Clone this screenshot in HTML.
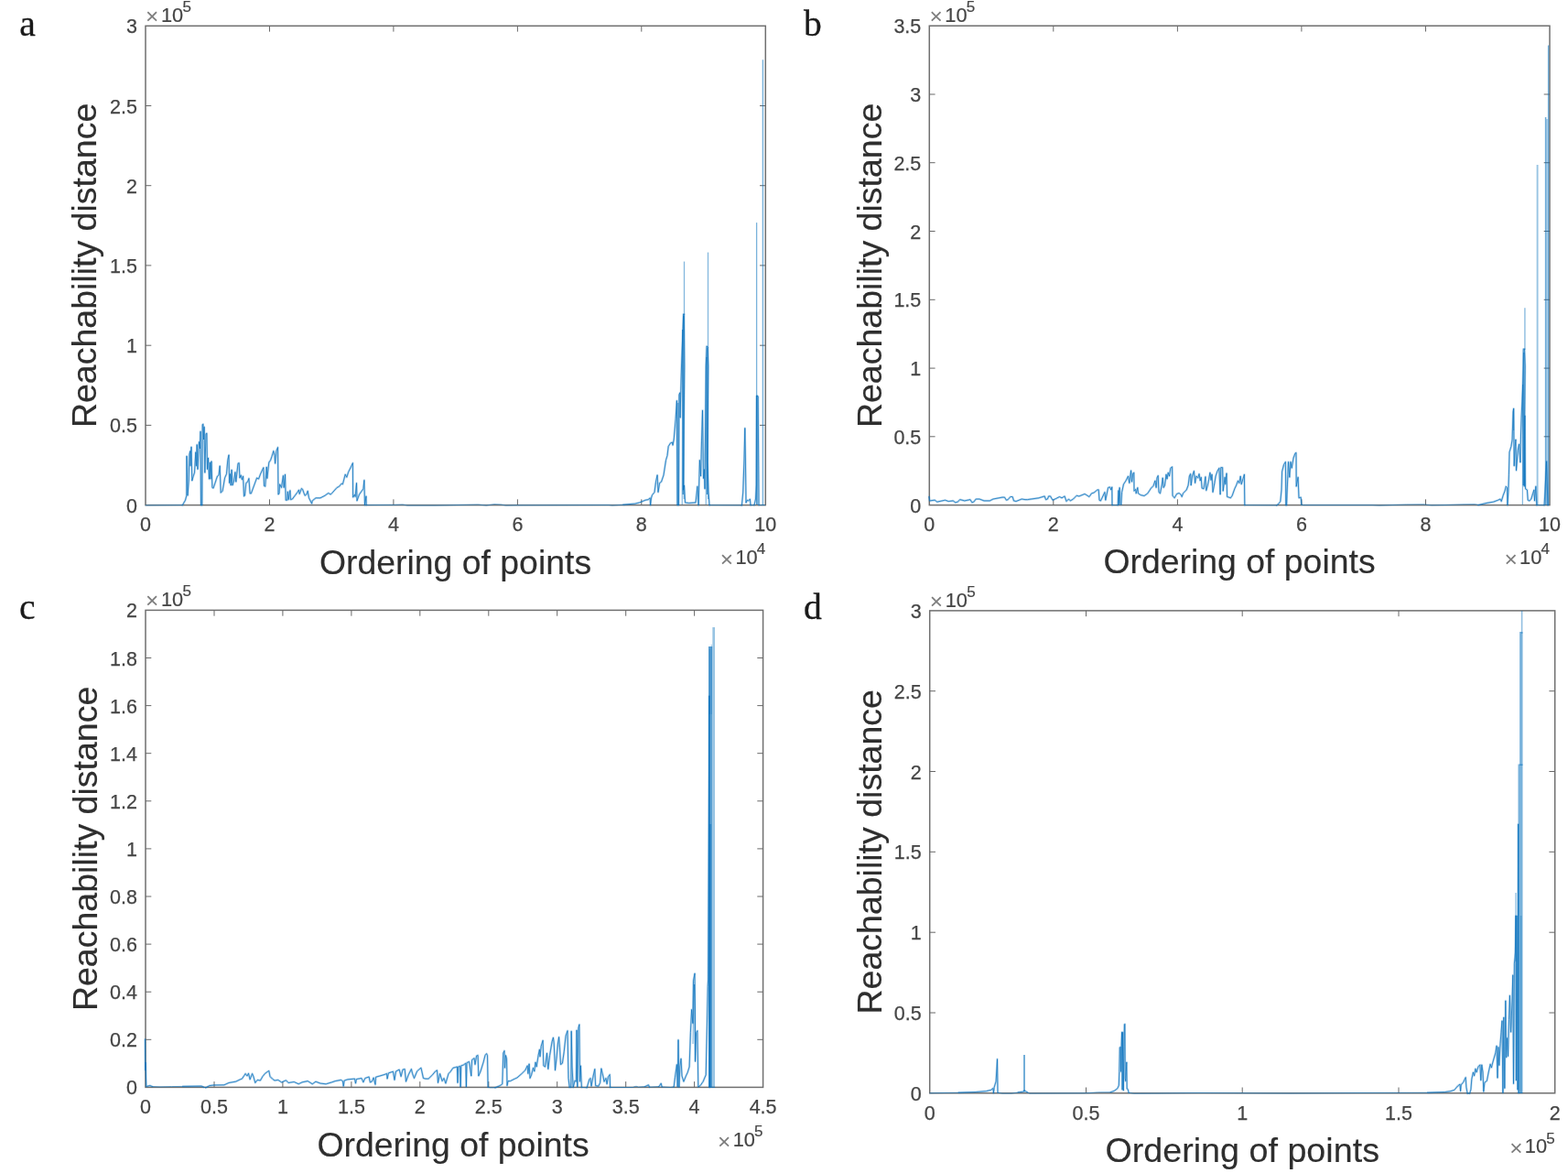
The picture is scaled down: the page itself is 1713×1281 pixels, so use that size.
<!DOCTYPE html>
<html lang="en"><head><meta charset="utf-8"><title>Reachability plots</title>
<style>
html,body{margin:0;padding:0;background:#fff;}
body{width:1713px;height:1281px;overflow:hidden;position:relative;}
svg{display:block;position:absolute;left:0;top:0;}
.tk{font-family:"Liberation Sans",Arial,Helvetica,sans-serif;font-size:21.5px;fill:#454545;stroke:#454545;stroke-width:.25;}
.ex{font-family:"Liberation Sans",Arial,Helvetica,sans-serif;font-size:21.8px;fill:#454545;stroke:#454545;stroke-width:.2;}
.xs{font-family:"Liberation Sans",Arial,Helvetica,sans-serif;fill:#7d7d7d;font-size:24.5px;}
.sup{font-size:17px;}
.lb{font-family:"Liberation Sans",Arial,Helvetica,sans-serif;font-size:37.5px;fill:#2e2e2e;stroke:#2e2e2e;stroke-width:.15;}
.lx{font-size:37.4px;}
.pl{font-family:"Liberation Serif","Times New Roman",serif;font-size:39.6px;fill:#1a1a1a;stroke:#1a1a1a;stroke-width:.3;}
.tc{stroke:#686868;stroke-width:1;fill:none;}
.ax{stroke:#6f6f6f;stroke-width:1.5;fill:none;shape-rendering:geometricPrecision;}
.dh{stroke:#0a72bd;stroke-width:2.2;stroke-opacity:.3;fill:none;stroke-linejoin:round;stroke-linecap:round;}
.dl{stroke:#0a72bd;stroke-width:0.75;fill:none;stroke-linejoin:round;stroke-linecap:round;}
.db{stroke:#0a72bd;stroke-width:1;stroke-opacity:.62;fill:none;stroke-linejoin:round;}
.dx{stroke:#0a72bd;stroke-width:0.8;fill:none;stroke-linejoin:round;stroke-opacity:.75;}
</style></head><body>
<svg width="1713" height="1281" viewBox="0 0 1713 1281">
<rect x="0" y="0" width="1713" height="1281" fill="#fff"/>
<g id="panel-a">
<rect class="ax" x="159.0" y="28.3" width="677.3" height="523.3"/>
<path class="tc" d="M294.5 551.6v-6.3 M294.5 28.3v6.3 M429.9 551.6v-6.3 M429.9 28.3v6.3 M565.4 551.6v-6.3 M565.4 28.3v6.3 M700.8 551.6v-6.3 M700.8 28.3v6.3 M159.0 464.4h6.3 M836.3 464.4h-6.3 M159.0 377.2h6.3 M836.3 377.2h-6.3 M159.0 289.9h6.3 M836.3 289.9h-6.3 M159.0 202.7h6.3 M836.3 202.7h-6.3 M159.0 115.5h6.3 M836.3 115.5h-6.3"/>
<g class="dg">
<polyline class="db" points="158.8,551.9 199.4,551.6"/>
<polyline class="dh" points="199.4,551.6 202.5,546.2 203.8,541.2 204.0,498.1 205.0,541.2 206.2,525.0 206.9,496.2 207.8,492.5 208.1,508.8 209.0,488.1 209.8,525.0 211.2,520.0 212.5,516.2 213.8,493.8 214.4,508.8 215.2,485.6 216.0,512.5 217.5,482.5 218.5,490.0 219.0,471.2 219.5,551.6"/>
<polyline class="dl" points="199.4,551.6 202.5,546.2 203.8,541.2 204.0,498.1 205.0,541.2 206.2,525.0 206.9,496.2 207.8,492.5 208.1,508.8 209.0,488.1 209.8,525.0 211.2,520.0 212.5,516.2 213.8,493.8 214.4,508.8 215.2,485.6 216.0,512.5 217.5,482.5 218.5,490.0 219.0,471.2 219.5,551.6"/>
<polyline class="db" points="219.5,551.6 220.8,551.6"/>
<polyline class="dh" points="220.8,551.6 221.2,463.8 221.9,463.1 222.5,480.0 223.1,466.2 223.8,516.2 225.0,473.8 225.9,473.1 226.5,512.5 227.5,500.0 228.5,523.1 229.4,505.0 230.0,523.1 231.0,503.8 231.9,532.5 233.1,533.1 236.2,523.8 237.5,520.0 239.0,518.8 240.2,508.8 241.2,538.1 243.1,536.2 245.6,521.9 247.5,517.5 248.8,502.5 250.0,496.9 250.6,527.5 251.5,517.5 252.2,530.0 253.1,513.1 254.0,530.0 255.6,525.0 256.9,515.6 257.8,526.2 260.0,506.2 261.2,505.6 261.9,521.9 263.1,518.8 264.4,523.8 265.6,520.0 266.5,541.9 267.5,541.2 268.8,527.5 270.6,526.2 271.9,522.5 273.1,538.8 274.4,538.8 280.6,521.9 282.5,523.1 284.4,518.1 286.9,512.5 287.9,510.6 288.5,530.6 289.8,531.2 291.2,510.0 291.9,522.5 293.8,505.0 295.6,502.5 296.9,498.8 298.8,492.5 300.0,497.5 300.6,506.2 301.9,492.5 303.5,488.5 304.0,540.0 305.0,538.8 305.6,528.8 307.5,532.5 309.4,519.4 310.2,532.5 311.5,518.1 312.2,546.2 313.8,546.2 314.4,536.9 315.2,545.6 316.9,535.6 317.5,545.6 319.4,545.0 325.0,537.5 326.5,535.0 327.2,539.4 329.4,533.5 330.6,534.4 331.9,538.1 333.1,541.2 334.8,540.0 336.2,536.2 337.5,543.8 340.6,550.0 341.2,546.9 345.0,543.8 350.0,543.8 355.0,541.2 358.8,538.5 361.2,540.0 363.1,538.1 368.1,532.5 370.6,531.2 373.1,528.1 374.4,528.8 377.2,518.1 378.8,521.2 380.6,515.6 383.1,510.6 385.4,505.6 385.6,543.1 387.5,540.0 388.1,542.5 389.5,527.5 390.0,546.9 392.5,540.0 396.9,533.8 397.9,524.4 398.5,551.6 400.0,541.9 400.2,551.6"/>
<polyline class="dl" points="220.8,551.6 221.2,463.8 221.9,463.1 222.5,480.0 223.1,466.2 223.8,516.2 225.0,473.8 225.9,473.1 226.5,512.5 227.5,500.0 228.5,523.1 229.4,505.0 230.0,523.1 231.0,503.8 231.9,532.5 233.1,533.1 236.2,523.8 237.5,520.0 239.0,518.8 240.2,508.8 241.2,538.1 243.1,536.2 245.6,521.9 247.5,517.5 248.8,502.5 250.0,496.9 250.6,527.5 251.5,517.5 252.2,530.0 253.1,513.1 254.0,530.0 255.6,525.0 256.9,515.6 257.8,526.2 260.0,506.2 261.2,505.6 261.9,521.9 263.1,518.8 264.4,523.8 265.6,520.0 266.5,541.9 267.5,541.2 268.8,527.5 270.6,526.2 271.9,522.5 273.1,538.8 274.4,538.8 280.6,521.9 282.5,523.1 284.4,518.1 286.9,512.5 287.9,510.6 288.5,530.6 289.8,531.2 291.2,510.0 291.9,522.5 293.8,505.0 295.6,502.5 296.9,498.8 298.8,492.5 300.0,497.5 300.6,506.2 301.9,492.5 303.5,488.5 304.0,540.0 305.0,538.8 305.6,528.8 307.5,532.5 309.4,519.4 310.2,532.5 311.5,518.1 312.2,546.2 313.8,546.2 314.4,536.9 315.2,545.6 316.9,535.6 317.5,545.6 319.4,545.0 325.0,537.5 326.5,535.0 327.2,539.4 329.4,533.5 330.6,534.4 331.9,538.1 333.1,541.2 334.8,540.0 336.2,536.2 337.5,543.8 340.6,550.0 341.2,546.9 345.0,543.8 350.0,543.8 355.0,541.2 358.8,538.5 361.2,540.0 363.1,538.1 368.1,532.5 370.6,531.2 373.1,528.1 374.4,528.8 377.2,518.1 378.8,521.2 380.6,515.6 383.1,510.6 385.4,505.6 385.6,543.1 387.5,540.0 388.1,542.5 389.5,527.5 390.0,546.9 392.5,540.0 396.9,533.8 397.9,524.4 398.5,551.6 400.0,541.9 400.2,551.6"/>
<polyline class="db" points="400.2,551.6 430.0,551.4 440.0,551.0 445.0,552.0 475.0,552.0 487.5,551.8 522.5,551.0 531.2,552.0 540.0,550.6 547.5,551.0 552.5,552.0 564.1,551.8 640.0,551.6 665.0,551.5 668.8,552.0 681.2,551.2"/>
<polyline class="dh" points="681.2,551.2 693.8,550.0 698.8,548.8 705.0,546.2 708.1,545.6 710.2,543.8 710.6,551.6 711.5,543.8 712.5,540.6 715.0,537.5 716.5,526.2 718.1,518.8 719.0,537.5 720.6,527.5 722.5,526.2 725.0,518.8 727.5,502.5 729.0,497.5 730.2,487.5 732.5,483.8 734.4,483.1 735.0,486.2 736.2,480.0 738.1,457.5 739.4,437.5 740.0,551.6"/>
<polyline class="dl" points="681.2,551.2 693.8,550.0 698.8,548.8 705.0,546.2 708.1,545.6 710.2,543.8 710.6,551.6 711.5,543.8 712.5,540.6 715.0,537.5 716.5,526.2 718.1,518.8 719.0,537.5 720.6,527.5 722.5,526.2 725.0,518.8 727.5,502.5 729.0,497.5 730.2,487.5 732.5,483.8 734.4,483.1 735.0,486.2 736.2,480.0 738.1,457.5 739.4,437.5 740.0,551.6"/>
<polyline class="db" points="740.0,551.6 741.5,551.6"/>
<polyline class="dh" points="741.5,551.6 741.9,431.2 742.8,428.8 743.1,456.2 743.8,426.2 744.5,400.0 744.5,400.0 746.6,343.0 747.4,343.0 747.8,400.0 746.5,535.0 747.5,530.0 748.5,548.8 752.5,549.4 760.0,548.8 761.9,531.2 763.1,551.6 764.4,502.5 765.6,520.0 766.5,481.2 767.5,448.1 768.5,522.5 769.4,512.5 770.0,533.8 771.2,400.0 772.0,378.0 773.2,379.0 773.8,400.0 773.0,505.0 774.0,537.0 775.0,551.6"/>
<polyline class="dl" points="741.5,551.6 741.9,431.2 742.8,428.8 743.1,456.2 743.8,426.2 744.5,400.0 744.5,400.0 746.6,343.0 747.4,343.0 747.8,400.0 746.5,535.0 747.5,530.0 748.5,548.8 752.5,549.4 760.0,548.8 761.9,531.2 763.1,551.6 764.4,502.5 765.6,520.0 766.5,481.2 767.5,448.1 768.5,522.5 769.4,512.5 770.0,533.8 771.2,400.0 772.0,378.0 773.2,379.0 773.8,400.0 773.0,505.0 774.0,537.0 775.0,551.6"/>
<polyline class="db" points="775.0,551.6 810.4,551.8"/>
<polyline class="dh" points="810.4,551.8 811.7,538.0 813.0,502.0 813.8,467.5 814.4,502.0 815.0,549.0 816.2,546.2 817.5,547.0 819.4,545.0 820.0,551.6"/>
<polyline class="dl" points="810.4,551.8 811.7,538.0 813.0,502.0 813.8,467.5 814.4,502.0 815.0,549.0 816.2,546.2 817.5,547.0 819.4,545.0 820.0,551.6"/>
<polyline class="db" points="820.0,551.6 824.0,551.6"/>
<polyline class="dh" points="824.0,551.6 825.5,545.0 826.2,530.0 826.5,433.0 827.2,432.0 828.2,433.0 829.0,551.6"/>
<polyline class="dl" points="824.0,551.6 825.5,545.0 826.2,530.0 826.5,433.0 827.2,432.0 828.2,433.0 829.0,551.6"/>
<polyline class="db" points="829.0,551.6 832.5,551.6 836.0,551.6"/>
<polyline class="dx" points="745.2,551.0 745.6,360.0 746.2,540.0 746.8,345.0 747.2,545.0"/>
<polyline class="dx" points="771.2,551.0 771.8,390.0 772.4,540.0 773.0,380.0 773.4,545.0"/>
<line x1="747.5" y1="285.6" x2="747.5" y2="344.0" stroke="#0a72bd" stroke-width="1.3" stroke-opacity="0.50"/>
<line x1="773.5" y1="275.6" x2="773.5" y2="380.0" stroke="#0a72bd" stroke-width="1.3" stroke-opacity="0.50"/>
<line x1="826.6" y1="243.1" x2="826.6" y2="433.0" stroke="#0a72bd" stroke-width="1.3" stroke-opacity="0.55"/>
<line x1="833.4" y1="65.3" x2="833.4" y2="551.6" stroke="#0a72bd" stroke-width="1.4" stroke-opacity="0.55"/>
<line x1="826.9" y1="432.0" x2="826.9" y2="551.0" stroke="#0a72bd" stroke-width="1.6" stroke-opacity="0.80"/>
<line x1="740.7" y1="440.0" x2="740.7" y2="551.0" stroke="#0a72bd" stroke-width="2.0" stroke-opacity="0.45"/>
</g>
<text class="tk" x="159.0" y="580.4" text-anchor="middle">0</text>
<text class="tk" x="294.5" y="580.4" text-anchor="middle">2</text>
<text class="tk" x="429.9" y="580.4" text-anchor="middle">4</text>
<text class="tk" x="565.4" y="580.4" text-anchor="middle">6</text>
<text class="tk" x="700.8" y="580.4" text-anchor="middle">8</text>
<text class="tk" x="836.3" y="580.4" text-anchor="middle">10</text>
<text class="tk" x="150.0" y="559.6" text-anchor="end">0</text>
<text class="tk" x="150.0" y="472.4" text-anchor="end">0.5</text>
<text class="tk" x="150.0" y="385.2" text-anchor="end">1</text>
<text class="tk" x="150.0" y="297.9" text-anchor="end">1.5</text>
<text class="tk" x="150.0" y="210.7" text-anchor="end">2</text>
<text class="tk" x="150.0" y="123.5" text-anchor="end">2.5</text>
<text class="tk" x="150.0" y="36.3" text-anchor="end">3</text>
<text class="xs" x="159.1" y="26.1">×</text>
<text class="ex" x="176.0" y="24.1">10<tspan class="sup" dy="-10.8" dx="-0.7">5</tspan></text>
<text class="xs" x="786.8" y="619.0">×</text>
<text class="ex" x="803.4" y="616.2">10<tspan class="sup" dy="-10.8" dx="-0.9">4</tspan></text>
<text class="lb lx" x="497.5" y="626.5" text-anchor="middle" style="font-size:37.4px">Ordering of points</text>
<text class="lb" transform="translate(104.8 289.9) rotate(-90)" text-anchor="middle">Reachability distance</text>
<text class="pl" x="21.2" y="38.9">a</text>
</g>
<g id="panel-b">
<rect class="ax" x="1015.3" y="28.2" width="677.7" height="523.4"/>
<path class="tc" d="M1150.8 551.6v-6.3 M1150.8 28.2v6.3 M1286.4 551.6v-6.3 M1286.4 28.2v6.3 M1421.9 551.6v-6.3 M1421.9 28.2v6.3 M1557.5 551.6v-6.3 M1557.5 28.2v6.3 M1015.3 476.8h6.3 M1693.0 476.8h-6.3 M1015.3 402.1h6.3 M1693.0 402.1h-6.3 M1015.3 327.3h6.3 M1693.0 327.3h-6.3 M1015.3 252.5h6.3 M1693.0 252.5h-6.3 M1015.3 177.7h6.3 M1693.0 177.7h-6.3 M1015.3 103.0h6.3 M1693.0 103.0h-6.3"/>
<g class="dg">
<polyline class="dh" points="1015.0,542.5 1015.6,546.9 1021.2,546.2 1023.8,548.1 1032.5,546.2 1036.2,547.5 1041.2,546.9 1043.8,548.8 1046.2,548.1 1048.8,545.6 1053.8,546.9 1060.0,545.6 1061.9,548.8 1063.8,548.1 1066.2,545.0 1070.0,545.0 1075.0,546.9 1081.2,546.9 1085.0,545.0 1095.0,543.1 1097.5,543.1 1099.4,546.2 1101.2,545.6 1103.8,542.5 1106.2,542.5 1107.5,546.9 1110.0,547.5 1116.2,545.0 1120.0,545.6 1122.5,545.6 1135.0,543.8 1141.2,541.9 1142.5,545.6 1144.4,545.0 1145.6,541.9 1147.5,541.9 1150.0,546.2 1153.8,544.4 1157.5,542.5 1160.0,543.8 1163.1,541.9 1165.0,547.5 1167.5,545.0 1169.4,546.9 1172.5,545.0 1176.2,541.2 1178.8,541.9 1185.0,539.4 1190.0,542.5 1192.5,538.8 1195.0,538.1 1198.8,535.0 1200.2,534.8 1201.0,546.2 1202.5,546.9 1206.9,537.5 1207.8,546.2 1210.6,532.5 1212.5,531.9 1213.8,535.0 1214.8,531.9 1215.0,551.6"/>
<polyline class="dl" points="1015.0,542.5 1015.6,546.9 1021.2,546.2 1023.8,548.1 1032.5,546.2 1036.2,547.5 1041.2,546.9 1043.8,548.8 1046.2,548.1 1048.8,545.6 1053.8,546.9 1060.0,545.6 1061.9,548.8 1063.8,548.1 1066.2,545.0 1070.0,545.0 1075.0,546.9 1081.2,546.9 1085.0,545.0 1095.0,543.1 1097.5,543.1 1099.4,546.2 1101.2,545.6 1103.8,542.5 1106.2,542.5 1107.5,546.9 1110.0,547.5 1116.2,545.0 1120.0,545.6 1122.5,545.6 1135.0,543.8 1141.2,541.9 1142.5,545.6 1144.4,545.0 1145.6,541.9 1147.5,541.9 1150.0,546.2 1153.8,544.4 1157.5,542.5 1160.0,543.8 1163.1,541.9 1165.0,547.5 1167.5,545.0 1169.4,546.9 1172.5,545.0 1176.2,541.2 1178.8,541.9 1185.0,539.4 1190.0,542.5 1192.5,538.8 1195.0,538.1 1198.8,535.0 1200.2,534.8 1201.0,546.2 1202.5,546.9 1206.9,537.5 1207.8,546.2 1210.6,532.5 1212.5,531.9 1213.8,535.0 1214.8,531.9 1215.0,551.6"/>
<polyline class="db" points="1215.0,551.6 1221.2,551.6"/>
<polyline class="dh" points="1221.2,551.6 1221.9,535.6 1222.5,551.2 1223.1,532.5 1224.0,550.0 1224.8,551.2 1225.6,537.5 1227.5,528.8 1230.0,525.0 1232.5,520.0 1233.8,527.5 1235.6,513.8 1236.5,526.2 1237.8,516.9 1238.8,516.2 1239.0,536.2 1240.6,534.4 1241.2,538.8 1242.8,532.5 1243.5,538.8 1246.2,540.6 1250.0,541.5 1253.8,538.8 1257.5,533.1 1260.0,530.6 1261.9,525.0 1263.1,532.5 1264.0,521.9 1265.2,519.4 1266.0,537.5 1267.5,538.8 1269.4,528.8 1270.2,521.9 1271.2,532.5 1272.5,530.0 1274.0,518.1 1275.0,523.1 1276.2,516.2 1277.5,520.0 1278.8,511.2 1280.6,509.8 1281.0,541.2 1283.1,543.8 1285.6,539.4 1288.1,538.5 1290.0,540.0 1291.2,542.5 1292.5,538.8 1296.2,535.0 1298.1,530.0 1299.4,520.0 1300.6,517.5 1301.2,530.0 1302.5,520.0 1304.4,514.4 1305.6,527.5 1306.9,520.0 1308.8,521.9 1310.0,517.5 1311.2,525.0 1312.2,521.2 1313.1,533.1 1315.0,533.8 1316.9,520.6 1317.8,535.6 1319.4,530.0 1320.6,523.8 1321.9,516.2 1323.1,524.4 1324.0,518.1 1325.0,537.5 1326.9,527.5 1328.1,520.0 1330.0,514.4 1331.9,511.2 1333.1,540.0 1333.8,510.6 1335.6,510.6 1336.2,536.2 1338.1,521.2 1338.8,528.8 1340.0,516.9 1340.6,542.5 1342.5,543.1 1344.4,543.8 1346.2,541.2 1348.8,533.8 1350.6,530.0 1352.5,525.0 1353.8,527.5 1355.2,520.0 1356.2,528.8 1358.1,522.5 1359.4,518.1 1359.8,551.6"/>
<polyline class="dl" points="1221.2,551.6 1221.9,535.6 1222.5,551.2 1223.1,532.5 1224.0,550.0 1224.8,551.2 1225.6,537.5 1227.5,528.8 1230.0,525.0 1232.5,520.0 1233.8,527.5 1235.6,513.8 1236.5,526.2 1237.8,516.9 1238.8,516.2 1239.0,536.2 1240.6,534.4 1241.2,538.8 1242.8,532.5 1243.5,538.8 1246.2,540.6 1250.0,541.5 1253.8,538.8 1257.5,533.1 1260.0,530.6 1261.9,525.0 1263.1,532.5 1264.0,521.9 1265.2,519.4 1266.0,537.5 1267.5,538.8 1269.4,528.8 1270.2,521.9 1271.2,532.5 1272.5,530.0 1274.0,518.1 1275.0,523.1 1276.2,516.2 1277.5,520.0 1278.8,511.2 1280.6,509.8 1281.0,541.2 1283.1,543.8 1285.6,539.4 1288.1,538.5 1290.0,540.0 1291.2,542.5 1292.5,538.8 1296.2,535.0 1298.1,530.0 1299.4,520.0 1300.6,517.5 1301.2,530.0 1302.5,520.0 1304.4,514.4 1305.6,527.5 1306.9,520.0 1308.8,521.9 1310.0,517.5 1311.2,525.0 1312.2,521.2 1313.1,533.1 1315.0,533.8 1316.9,520.6 1317.8,535.6 1319.4,530.0 1320.6,523.8 1321.9,516.2 1323.1,524.4 1324.0,518.1 1325.0,537.5 1326.9,527.5 1328.1,520.0 1330.0,514.4 1331.9,511.2 1333.1,540.0 1333.8,510.6 1335.6,510.6 1336.2,536.2 1338.1,521.2 1338.8,528.8 1340.0,516.9 1340.6,542.5 1342.5,543.1 1344.4,543.8 1346.2,541.2 1348.8,533.8 1350.6,530.0 1352.5,525.0 1353.8,527.5 1355.2,520.0 1356.2,528.8 1358.1,522.5 1359.4,518.1 1359.8,551.6"/>
<polyline class="db" points="1359.8,551.6 1395.0,551.8"/>
<polyline class="dh" points="1395.0,551.8 1397.5,549.4 1398.8,547.5 1400.0,535.0 1400.6,515.0 1402.5,507.5 1404.4,504.4 1404.8,551.6"/>
<polyline class="dl" points="1395.0,551.8 1397.5,549.4 1398.8,547.5 1400.0,535.0 1400.6,515.0 1402.5,507.5 1404.4,504.4 1404.8,551.6"/>
<polyline class="db" points="1404.8,551.6 1405.6,551.6"/>
<polyline class="dh" points="1405.6,551.6 1406.0,540.0 1406.9,518.8 1407.5,504.4 1408.8,521.2 1410.0,504.4 1411.2,511.2 1413.1,500.0 1415.0,495.0 1416.0,494.4 1416.2,531.2 1418.1,521.2 1419.0,543.8 1421.2,543.1 1421.9,551.2"/>
<polyline class="dl" points="1405.6,551.6 1406.0,540.0 1406.9,518.8 1407.5,504.4 1408.8,521.2 1410.0,504.4 1411.2,511.2 1413.1,500.0 1415.0,495.0 1416.0,494.4 1416.2,531.2 1418.1,521.2 1419.0,543.8 1421.2,543.1 1421.9,551.2"/>
<polyline class="db" points="1421.9,551.2 1424.1,551.6 1499.0,551.6 1506.5,552.0 1536.5,551.0 1555.2,550.8 1564.0,551.8 1579.0,551.5 1599.0,550.8 1611.5,550.6 1615.2,551.5"/>
<polyline class="dh" points="1615.2,551.5 1624.0,549.4 1631.5,548.1 1636.5,546.2 1639.0,545.0 1640.2,547.5 1642.1,541.2 1644.0,536.2 1645.2,531.2 1646.5,532.5 1646.9,551.6 1647.8,537.5 1648.4,518.8 1649.0,493.8 1650.9,487.5 1652.1,480.0 1653.0,450.0 1653.6,446.2 1654.2,508.8 1655.2,487.5 1655.9,480.0 1656.5,513.8 1658.4,491.2 1659.6,485.0 1660.9,505.0 1661.5,475.0 1662.1,456.2 1663.4,425.0 1664.0,400.0 1664.0,400.0 1664.3,381.2 1665.5,381.0 1666.2,400.0 1665.0,531.0 1665.5,531.2 1665.9,453.8 1666.5,533.8 1668.4,535.0 1669.2,546.2 1670.9,546.9 1672.8,545.0 1674.6,538.8 1675.9,535.0 1676.5,546.9 1677.8,531.2 1678.8,551.6"/>
<polyline class="dl" points="1615.2,551.5 1624.0,549.4 1631.5,548.1 1636.5,546.2 1639.0,545.0 1640.2,547.5 1642.1,541.2 1644.0,536.2 1645.2,531.2 1646.5,532.5 1646.9,551.6 1647.8,537.5 1648.4,518.8 1649.0,493.8 1650.9,487.5 1652.1,480.0 1653.0,450.0 1653.6,446.2 1654.2,508.8 1655.2,487.5 1655.9,480.0 1656.5,513.8 1658.4,491.2 1659.6,485.0 1660.9,505.0 1661.5,475.0 1662.1,456.2 1663.4,425.0 1664.0,400.0 1664.0,400.0 1664.3,381.2 1665.5,381.0 1666.2,400.0 1665.0,531.0 1665.5,531.2 1665.9,453.8 1666.5,533.8 1668.4,535.0 1669.2,546.2 1670.9,546.9 1672.8,545.0 1674.6,538.8 1675.9,535.0 1676.5,546.9 1677.8,531.2 1678.8,551.6"/>
<polyline class="db" points="1678.8,551.6 1687.1,551.6"/>
<polyline class="dh" points="1687.1,551.6 1689.6,503.8 1690.9,551.6"/>
<polyline class="dl" points="1687.1,551.6 1689.6,503.8 1690.9,551.6"/>
<polyline class="db" points="1690.9,551.6 1692.3,551.6"/>
<polyline class="dx" points="1663.3,551.0 1663.6,420.0 1664.2,530.0 1664.8,385.0 1665.3,530.0"/>
<line x1="1665.9" y1="336.2" x2="1665.9" y2="382.0" stroke="#0a72bd" stroke-width="1.3" stroke-opacity="0.50"/>
<line x1="1679.6" y1="180.0" x2="1679.6" y2="551.6" stroke="#0a72bd" stroke-width="1.9" stroke-opacity="0.42"/>
<line x1="1688.6" y1="128.1" x2="1688.6" y2="551.6" stroke="#0a72bd" stroke-width="1.5" stroke-opacity="0.60"/>
<line x1="1691.6" y1="49.4" x2="1691.6" y2="551.6" stroke="#0a72bd" stroke-width="1.4" stroke-opacity="0.60"/>
<line x1="1690.1" y1="130.0" x2="1690.1" y2="551.6" stroke="#0a72bd" stroke-width="2.2" stroke-opacity="0.30"/>
<line x1="1653.6" y1="446.0" x2="1653.6" y2="470.0" stroke="#0a72bd" stroke-width="1.2" stroke-opacity="0.50"/>
</g>
<text class="tk" x="1015.3" y="580.4" text-anchor="middle">0</text>
<text class="tk" x="1150.8" y="580.4" text-anchor="middle">2</text>
<text class="tk" x="1286.4" y="580.4" text-anchor="middle">4</text>
<text class="tk" x="1421.9" y="580.4" text-anchor="middle">6</text>
<text class="tk" x="1557.5" y="580.4" text-anchor="middle">8</text>
<text class="tk" x="1693.0" y="580.4" text-anchor="middle">10</text>
<text class="tk" x="1006.3" y="559.6" text-anchor="end">0</text>
<text class="tk" x="1006.3" y="484.8" text-anchor="end">0.5</text>
<text class="tk" x="1006.3" y="410.1" text-anchor="end">1</text>
<text class="tk" x="1006.3" y="335.3" text-anchor="end">1.5</text>
<text class="tk" x="1006.3" y="260.5" text-anchor="end">2</text>
<text class="tk" x="1006.3" y="185.7" text-anchor="end">2.5</text>
<text class="tk" x="1006.3" y="111.0" text-anchor="end">3</text>
<text class="tk" x="1006.3" y="36.2" text-anchor="end">3.5</text>
<text class="xs" x="1015.4" y="26.0">×</text>
<text class="ex" x="1032.3" y="24.0">10<tspan class="sup" dy="-10.8" dx="-0.7">5</tspan></text>
<text class="xs" x="1643.5" y="619.0">×</text>
<text class="ex" x="1660.1" y="616.2">10<tspan class="sup" dy="-10.8" dx="-0.9">4</tspan></text>
<text class="lb lx" x="1354.0" y="626.0" text-anchor="middle" style="font-size:37.4px">Ordering of points</text>
<text class="lb" transform="translate(962.6 289.9) rotate(-90)" text-anchor="middle">Reachability distance</text>
<text class="pl" x="878.0" y="38.9">b</text>
</g>
<g id="panel-c">
<rect class="ax" x="159.0" y="666.4" width="674.6" height="521.0"/>
<path class="tc" d="M234.0 1187.4v-6.3 M234.0 666.4v6.3 M308.9 1187.4v-6.3 M308.9 666.4v6.3 M383.9 1187.4v-6.3 M383.9 666.4v6.3 M458.8 1187.4v-6.3 M458.8 666.4v6.3 M533.8 1187.4v-6.3 M533.8 666.4v6.3 M608.7 1187.4v-6.3 M608.7 666.4v6.3 M683.7 1187.4v-6.3 M683.7 666.4v6.3 M758.6 1187.4v-6.3 M758.6 666.4v6.3 M159.0 1135.3h6.3 M833.6 1135.3h-6.3 M159.0 1083.2h6.3 M833.6 1083.2h-6.3 M159.0 1031.1h6.3 M833.6 1031.1h-6.3 M159.0 979.0h6.3 M833.6 979.0h-6.3 M159.0 926.9h6.3 M833.6 926.9h-6.3 M159.0 874.8h6.3 M833.6 874.8h-6.3 M159.0 822.7h6.3 M833.6 822.7h-6.3 M159.0 770.6h6.3 M833.6 770.6h-6.3 M159.0 718.5h6.3 M833.6 718.5h-6.3"/>
<g class="dg">
<polyline class="dh" points="158.5,1135.0 158.8,1168.8 159.0,1160.0 159.8,1186.5 163.8,1185.5 166.2,1186.5"/>
<polyline class="dl" points="158.5,1135.0 158.8,1168.8 159.0,1160.0 159.8,1186.5 163.8,1185.5 166.2,1186.5"/>
<polyline class="db" points="166.2,1186.5 175.0,1186.9 187.5,1186.6 200.0,1186.4"/>
<polyline class="dh" points="200.0,1186.4 220.0,1186.1 222.5,1187.2"/>
<polyline class="dl" points="200.0,1186.4 220.0,1186.1 222.5,1187.2"/>
<polyline class="db" points="222.5,1187.2 225.0,1187.8"/>
<polyline class="dh" points="225.0,1187.8 228.8,1185.6 233.8,1185.0 245.0,1184.8 250.0,1182.5 257.5,1181.2 262.5,1178.8 264.4,1178.1 266.9,1174.4 268.1,1172.5 270.0,1175.0 271.5,1172.2 273.1,1178.8 275.6,1172.5 276.9,1175.6 278.8,1182.5 281.2,1179.4 284.4,1180.0 286.9,1175.6 289.4,1172.5 291.9,1170.6 293.8,1169.4 295.0,1175.6 297.5,1178.1 300.0,1180.0 303.8,1179.4 307.5,1181.9 312.5,1179.8 315.0,1182.5 321.2,1181.5 326.2,1183.8 330.0,1181.9 336.2,1180.6 341.2,1183.8 345.0,1181.2 350.0,1183.1 356.2,1183.8 362.5,1181.9 366.2,1180.6 372.5,1179.4 374.4,1180.6 375.2,1186.2 376.2,1180.0 380.0,1178.8 387.5,1178.1 388.5,1183.1 389.4,1178.5 395.0,1177.5 396.9,1181.9 398.8,1177.5 403.1,1176.0 404.4,1181.9 406.2,1181.2 408.1,1176.9 410.0,1184.4 410.6,1176.2 415.0,1175.0 420.0,1173.5 422.5,1172.5 423.1,1178.1 424.4,1171.9 429.4,1170.2 431.0,1179.4 432.5,1170.0 436.2,1168.1 438.1,1175.6 440.0,1168.1 442.2,1167.5 443.5,1181.2 446.2,1173.8 449.4,1167.5 450.6,1172.5 452.5,1177.5 455.6,1170.0 457.5,1168.1 460.0,1166.2 462.5,1177.5 465.0,1178.1 468.1,1178.1 472.5,1173.8 475.6,1170.0 477.5,1168.8 478.5,1182.5 480.6,1172.5 483.1,1180.6 485.0,1177.5 486.9,1183.1 490.0,1172.5 491.9,1170.6 495.0,1166.2 497.5,1165.6 499.4,1165.0 500.0,1182.5 500.6,1165.0 502.5,1164.4 503.1,1186.9 503.8,1163.8 506.2,1163.1 508.8,1161.2 509.4,1186.9 510.0,1160.6 512.5,1159.4 514.8,1175.0 515.6,1157.5 518.1,1155.6 519.0,1162.5 520.6,1153.1 522.1,1152.5 522.8,1175.0 525.0,1170.0 528.1,1160.0 530.0,1152.5 531.5,1150.6 532.5,1152.5 533.1,1187.2"/>
<polyline class="dl" points="225.0,1187.8 228.8,1185.6 233.8,1185.0 245.0,1184.8 250.0,1182.5 257.5,1181.2 262.5,1178.8 264.4,1178.1 266.9,1174.4 268.1,1172.5 270.0,1175.0 271.5,1172.2 273.1,1178.8 275.6,1172.5 276.9,1175.6 278.8,1182.5 281.2,1179.4 284.4,1180.0 286.9,1175.6 289.4,1172.5 291.9,1170.6 293.8,1169.4 295.0,1175.6 297.5,1178.1 300.0,1180.0 303.8,1179.4 307.5,1181.9 312.5,1179.8 315.0,1182.5 321.2,1181.5 326.2,1183.8 330.0,1181.9 336.2,1180.6 341.2,1183.8 345.0,1181.2 350.0,1183.1 356.2,1183.8 362.5,1181.9 366.2,1180.6 372.5,1179.4 374.4,1180.6 375.2,1186.2 376.2,1180.0 380.0,1178.8 387.5,1178.1 388.5,1183.1 389.4,1178.5 395.0,1177.5 396.9,1181.9 398.8,1177.5 403.1,1176.0 404.4,1181.9 406.2,1181.2 408.1,1176.9 410.0,1184.4 410.6,1176.2 415.0,1175.0 420.0,1173.5 422.5,1172.5 423.1,1178.1 424.4,1171.9 429.4,1170.2 431.0,1179.4 432.5,1170.0 436.2,1168.1 438.1,1175.6 440.0,1168.1 442.2,1167.5 443.5,1181.2 446.2,1173.8 449.4,1167.5 450.6,1172.5 452.5,1177.5 455.6,1170.0 457.5,1168.1 460.0,1166.2 462.5,1177.5 465.0,1178.1 468.1,1178.1 472.5,1173.8 475.6,1170.0 477.5,1168.8 478.5,1182.5 480.6,1172.5 483.1,1180.6 485.0,1177.5 486.9,1183.1 490.0,1172.5 491.9,1170.6 495.0,1166.2 497.5,1165.6 499.4,1165.0 500.0,1182.5 500.6,1165.0 502.5,1164.4 503.1,1186.9 503.8,1163.8 506.2,1163.1 508.8,1161.2 509.4,1186.9 510.0,1160.6 512.5,1159.4 514.8,1175.0 515.6,1157.5 518.1,1155.6 519.0,1162.5 520.6,1153.1 522.1,1152.5 522.8,1175.0 525.0,1170.0 528.1,1160.0 530.0,1152.5 531.5,1150.6 532.5,1152.5 533.1,1187.2"/>
<polyline class="db" points="533.1,1187.2 535.0,1187.8 541.2,1187.8"/>
<polyline class="dh" points="541.2,1187.8 546.2,1185.6 548.8,1183.8 549.8,1150.0 551.0,1147.5 551.5,1166.2 552.5,1152.5 553.5,1156.2 554.0,1185.6 555.0,1180.6 557.5,1180.6 562.5,1178.1 565.0,1176.9 570.0,1172.5 573.8,1168.8 576.2,1163.8 576.9,1172.5 578.1,1161.9 579.0,1177.5 580.6,1173.8 582.5,1166.2 583.8,1170.0 585.0,1160.0 586.2,1165.0 588.1,1152.5 589.4,1146.2 590.0,1153.8 591.2,1142.5 593.1,1136.2 593.8,1163.8 595.6,1165.0 597.5,1150.0 598.8,1167.5 600.6,1152.5 603.1,1137.5 604.4,1133.1 605.2,1138.8 606.5,1168.8 608.1,1155.0 609.4,1140.0 610.6,1132.5 611.5,1143.8 612.5,1162.5 614.4,1161.2 616.2,1148.8 618.1,1131.2 620.0,1125.6 621.0,1177.5 622.2,1187.5"/>
<polyline class="dl" points="541.2,1187.8 546.2,1185.6 548.8,1183.8 549.8,1150.0 551.0,1147.5 551.5,1166.2 552.5,1152.5 553.5,1156.2 554.0,1185.6 555.0,1180.6 557.5,1180.6 562.5,1178.1 565.0,1176.9 570.0,1172.5 573.8,1168.8 576.2,1163.8 576.9,1172.5 578.1,1161.9 579.0,1177.5 580.6,1173.8 582.5,1166.2 583.8,1170.0 585.0,1160.0 586.2,1165.0 588.1,1152.5 589.4,1146.2 590.0,1153.8 591.2,1142.5 593.1,1136.2 593.8,1163.8 595.6,1165.0 597.5,1150.0 598.8,1167.5 600.6,1152.5 603.1,1137.5 604.4,1133.1 605.2,1138.8 606.5,1168.8 608.1,1155.0 609.4,1140.0 610.6,1132.5 611.5,1143.8 612.5,1162.5 614.4,1161.2 616.2,1148.8 618.1,1131.2 620.0,1125.6 621.0,1177.5 622.2,1187.5"/>
<polyline class="db" points="622.2,1187.5 623.8,1187.5"/>
<polyline class="dh" points="623.8,1187.5 624.2,1126.2 625.0,1165.0 626.2,1187.5 628.1,1180.0 629.4,1181.2 630.0,1125.0 630.8,1186.9 631.9,1122.5 632.9,1118.8 633.5,1181.2 634.4,1163.8 635.4,1187.5"/>
<polyline class="dl" points="623.8,1187.5 624.2,1126.2 625.0,1165.0 626.2,1187.5 628.1,1180.0 629.4,1181.2 630.0,1125.0 630.8,1186.9 631.9,1122.5 632.9,1118.8 633.5,1181.2 634.4,1163.8 635.4,1187.5"/>
<polyline class="db" points="635.4,1187.5 641.2,1187.8"/>
<polyline class="dh" points="641.2,1187.8 643.8,1178.8 645.0,1177.5 646.0,1186.2 648.1,1175.0 649.8,1167.5 650.6,1185.6 653.8,1186.2 655.6,1182.5 656.9,1166.9 658.8,1175.0 660.0,1181.2 661.9,1177.5 663.1,1183.8 664.4,1176.2 666.2,1173.5 666.6,1187.5"/>
<polyline class="dl" points="641.2,1187.8 643.8,1178.8 645.0,1177.5 646.0,1186.2 648.1,1175.0 649.8,1167.5 650.6,1185.6 653.8,1186.2 655.6,1182.5 656.9,1166.9 658.8,1175.0 660.0,1181.2 661.9,1177.5 663.1,1183.8 664.4,1176.2 666.2,1173.5 666.6,1187.5"/>
<polyline class="db" points="666.6,1187.5 691.2,1187.5 695.0,1186.2 697.5,1187.2 705.0,1186.5"/>
<polyline class="dh" points="705.0,1186.5 708.5,1184.8 709.4,1187.2"/>
<polyline class="dl" points="705.0,1186.5 708.5,1184.8 709.4,1187.2"/>
<polyline class="db" points="709.4,1187.2 720.0,1186.5"/>
<polyline class="dh" points="720.0,1186.5 722.2,1183.1 723.1,1186.9"/>
<polyline class="dl" points="720.0,1186.5 722.2,1183.1 723.1,1186.9"/>
<polyline class="db" points="723.1,1186.9 732.5,1187.5 736.2,1186.9"/>
<polyline class="dh" points="736.2,1186.9 737.5,1176.2 739.4,1162.5 740.2,1186.9 741.0,1135.6 741.9,1187.2 742.8,1165.0 744.0,1156.2 745.0,1175.0 746.9,1181.2 749.4,1175.0 751.2,1171.2 753.1,1165.0 754.4,1127.5 755.6,1102.5 756.9,1117.5 757.5,1071.2 759.0,1063.1 759.5,1158.8 760.6,1127.5 761.9,1125.6 762.8,1186.9 765.0,1185.6 768.1,1181.2 771.2,1173.8 772.5,1115.0 773.2,1077.5 773.6,1070.0 774.3,900.0 774.8,760.0 775.2,1187.4"/>
<polyline class="dl" points="736.2,1186.9 737.5,1176.2 739.4,1162.5 740.2,1186.9 741.0,1135.6 741.9,1187.2 742.8,1165.0 744.0,1156.2 745.0,1175.0 746.9,1181.2 749.4,1175.0 751.2,1171.2 753.1,1165.0 754.4,1127.5 755.6,1102.5 756.9,1117.5 757.5,1071.2 759.0,1063.1 759.5,1158.8 760.6,1127.5 761.9,1125.6 762.8,1186.9 765.0,1185.6 768.1,1181.2 771.2,1173.8 772.5,1115.0 773.2,1077.5 773.6,1070.0 774.3,900.0 774.8,760.0 775.2,1187.4"/>
<polyline class="db" points="775.2,1187.4 781.2,1187.4"/>
<polyline class="dx" points="757.0,1140.0 757.8,1090.0 758.6,1075.0 759.2,1100.0 759.6,1160.0"/>
<line x1="776.1" y1="706.0" x2="776.1" y2="1187.4" stroke="#0a72bd" stroke-width="4.2" stroke-opacity="0.68"/>
<line x1="775.4" y1="708.8" x2="775.4" y2="780.0" stroke="#0a72bd" stroke-width="1.2" stroke-opacity="0.30"/>
<line x1="777.3" y1="703.8" x2="777.3" y2="780.0" stroke="#0a72bd" stroke-width="1.2" stroke-opacity="0.30"/>
<line x1="779.7" y1="685.0" x2="779.7" y2="1187.4" stroke="#0a72bd" stroke-width="2.7" stroke-opacity="0.42"/>
<line x1="775.8" y1="900.0" x2="775.8" y2="1187.4" stroke="#0a72bd" stroke-width="2.5" stroke-opacity="0.50"/>
</g>
<text class="tk" x="159.0" y="1216.2" text-anchor="middle">0</text>
<text class="tk" x="234.0" y="1216.2" text-anchor="middle">0.5</text>
<text class="tk" x="308.9" y="1216.2" text-anchor="middle">1</text>
<text class="tk" x="383.9" y="1216.2" text-anchor="middle">1.5</text>
<text class="tk" x="458.8" y="1216.2" text-anchor="middle">2</text>
<text class="tk" x="533.8" y="1216.2" text-anchor="middle">2.5</text>
<text class="tk" x="608.7" y="1216.2" text-anchor="middle">3</text>
<text class="tk" x="683.7" y="1216.2" text-anchor="middle">3.5</text>
<text class="tk" x="758.6" y="1216.2" text-anchor="middle">4</text>
<text class="tk" x="833.6" y="1216.2" text-anchor="middle">4.5</text>
<text class="tk" x="150.0" y="1195.4" text-anchor="end">0</text>
<text class="tk" x="150.0" y="1143.3" text-anchor="end">0.2</text>
<text class="tk" x="150.0" y="1091.2" text-anchor="end">0.4</text>
<text class="tk" x="150.0" y="1039.1" text-anchor="end">0.6</text>
<text class="tk" x="150.0" y="987.0" text-anchor="end">0.8</text>
<text class="tk" x="150.0" y="934.9" text-anchor="end">1</text>
<text class="tk" x="150.0" y="882.8" text-anchor="end">1.2</text>
<text class="tk" x="150.0" y="830.7" text-anchor="end">1.4</text>
<text class="tk" x="150.0" y="778.6" text-anchor="end">1.6</text>
<text class="tk" x="150.0" y="726.5" text-anchor="end">1.8</text>
<text class="tk" x="150.0" y="674.4" text-anchor="end">2</text>
<text class="xs" x="159.1" y="664.2">×</text>
<text class="ex" x="176.0" y="662.2">10<tspan class="sup" dy="-10.8" dx="-0.7">5</tspan></text>
<text class="xs" x="784.1" y="1254.8">×</text>
<text class="ex" x="800.7" y="1252.0">10<tspan class="sup" dy="-10.8" dx="-0.9">5</tspan></text>
<text class="lb lx" x="495.0" y="1263.0" text-anchor="middle" style="font-size:37.4px">Ordering of points</text>
<text class="lb" transform="translate(105.5 926.9) rotate(-90)" text-anchor="middle">Reachability distance</text>
<text class="pl" x="21.0" y="676.0">c</text>
</g>
<g id="panel-d">
<rect class="ax" x="1015.7" y="666.9" width="683.0" height="526.9"/>
<path class="tc" d="M1186.5 1193.8v-6.3 M1186.5 666.9v6.3 M1357.2 1193.8v-6.3 M1357.2 666.9v6.3 M1528.0 1193.8v-6.3 M1528.0 666.9v6.3 M1015.7 1106.0h6.3 M1698.7 1106.0h-6.3 M1015.7 1018.2h6.3 M1698.7 1018.2h-6.3 M1015.7 930.3h6.3 M1698.7 930.3h-6.3 M1015.7 842.5h6.3 M1698.7 842.5h-6.3 M1015.7 754.7h6.3 M1698.7 754.7h-6.3"/>
<g class="dg">
<polyline class="db" points="1015.6,1193.8 1047.5,1193.2"/>
<polyline class="dh" points="1047.5,1193.2 1066.2,1192.5 1077.5,1191.6 1082.5,1190.4 1085.0,1188.5 1085.4,1193.8 1086.2,1187.2 1088.1,1181.0 1089.0,1166.0 1089.5,1156.6 1090.0,1193.2"/>
<polyline class="dl" points="1047.5,1193.2 1066.2,1192.5 1077.5,1191.6 1082.5,1190.4 1085.0,1188.5 1085.4,1193.8 1086.2,1187.2 1088.1,1181.0 1089.0,1166.0 1089.5,1156.6 1090.0,1193.2"/>
<polyline class="db" points="1090.0,1193.2 1095.0,1194.1 1105.0,1194.1 1112.5,1192.9"/>
<polyline class="dh" points="1112.5,1192.9 1117.8,1192.2 1118.8,1191.0 1119.4,1191.0 1120.2,1191.6 1122.5,1192.9"/>
<polyline class="dl" points="1112.5,1192.9 1117.8,1192.2 1118.8,1191.0 1119.4,1191.0 1120.2,1191.6 1122.5,1192.9"/>
<polyline class="db" points="1122.5,1192.9 1125.0,1194.1 1185.0,1193.8 1190.0,1193.6 1199.4,1192.8 1213.4,1192.7"/>
<polyline class="dh" points="1213.4,1192.7 1217.2,1191.4 1220.9,1188.6 1222.3,1185.3 1222.8,1170.3 1223.3,1144.1 1224.2,1143.2 1224.5,1170.3 1225.1,1142.2 1225.6,1127.2 1226.1,1190.0 1226.7,1127.2 1227.3,1191.0 1228.0,1142.2 1228.4,1118.8 1228.9,1118.3 1229.2,1177.8 1229.8,1180.7 1230.3,1170.3 1230.8,1160.0 1231.2,1189.1 1232.2,1189.6 1233.1,1193.3"/>
<polyline class="dl" points="1213.4,1192.7 1217.2,1191.4 1220.9,1188.6 1222.3,1185.3 1222.8,1170.3 1223.3,1144.1 1224.2,1143.2 1224.5,1170.3 1225.1,1142.2 1225.6,1127.2 1226.1,1190.0 1226.7,1127.2 1227.3,1191.0 1228.0,1142.2 1228.4,1118.8 1228.9,1118.3 1229.2,1177.8 1229.8,1180.7 1230.3,1170.3 1230.8,1160.0 1231.2,1189.1 1232.2,1189.6 1233.1,1193.3"/>
<polyline class="db" points="1233.1,1193.3 1238.7,1194.2 1265.0,1194.0 1297.0,1193.6 1310.0,1193.5 1410.0,1194.0 1485.0,1193.5 1560.0,1193.2"/>
<polyline class="dh" points="1560.0,1193.2 1578.8,1192.5 1585.0,1191.6 1588.8,1190.4 1592.5,1186.0 1595.0,1184.1 1595.6,1191.6 1596.2,1184.8 1598.8,1181.6 1601.2,1176.6 1601.9,1187.2 1603.1,1194.1"/>
<polyline class="dl" points="1560.0,1193.2 1578.8,1192.5 1585.0,1191.6 1588.8,1190.4 1592.5,1186.0 1595.0,1184.1 1595.6,1191.6 1596.2,1184.8 1598.8,1181.6 1601.2,1176.6 1601.9,1187.2 1603.1,1194.1"/>
<polyline class="db" points="1603.1,1194.1 1605.6,1194.1"/>
<polyline class="dh" points="1605.6,1194.1 1606.9,1189.8 1607.8,1178.5 1609.4,1171.0 1610.6,1174.8 1611.9,1167.2 1613.1,1171.0 1615.0,1164.8 1616.9,1162.9 1617.8,1179.8 1618.8,1162.9 1620.0,1171.0 1620.8,1192.2 1621.9,1182.2 1624.4,1180.4 1626.2,1171.0 1628.1,1162.2 1629.4,1166.0 1630.6,1161.0 1633.8,1149.8 1635.0,1142.2 1636.0,1177.2 1636.9,1143.5 1637.8,1163.5 1639.0,1139.8 1640.0,1127.2 1641.0,1114.8 1641.9,1193.5 1642.8,1111.0 1643.8,1188.5 1644.8,1092.9 1645.6,1154.8 1646.5,1133.5 1647.5,1153.5 1648.5,1113.5 1649.4,1087.2 1650.6,1127.2 1651.9,1096.0 1652.8,1064.8 1653.5,1183.5 1654.4,1052.2 1655.0,1046.0 1655.4,1040.0 1656.0,1000.0 1656.4,1180.0 1657.0,1000.0 1658.0,1190.0 1658.6,900.0 1659.0,1193.6"/>
<polyline class="dl" points="1605.6,1194.1 1606.9,1189.8 1607.8,1178.5 1609.4,1171.0 1610.6,1174.8 1611.9,1167.2 1613.1,1171.0 1615.0,1164.8 1616.9,1162.9 1617.8,1179.8 1618.8,1162.9 1620.0,1171.0 1620.8,1192.2 1621.9,1182.2 1624.4,1180.4 1626.2,1171.0 1628.1,1162.2 1629.4,1166.0 1630.6,1161.0 1633.8,1149.8 1635.0,1142.2 1636.0,1177.2 1636.9,1143.5 1637.8,1163.5 1639.0,1139.8 1640.0,1127.2 1641.0,1114.8 1641.9,1193.5 1642.8,1111.0 1643.8,1188.5 1644.8,1092.9 1645.6,1154.8 1646.5,1133.5 1647.5,1153.5 1648.5,1113.5 1649.4,1087.2 1650.6,1127.2 1651.9,1096.0 1652.8,1064.8 1653.5,1183.5 1654.4,1052.2 1655.0,1046.0 1655.4,1040.0 1656.0,1000.0 1656.4,1180.0 1657.0,1000.0 1658.0,1190.0 1658.6,900.0 1659.0,1193.6"/>
<polyline class="db" points="1659.0,1193.6 1663.4,1193.6"/>
<line x1="1119.0" y1="1152.0" x2="1119.0" y2="1192.5" stroke="#0a72bd" stroke-width="1.6" stroke-opacity="0.72"/>
<line x1="1662.6" y1="667.0" x2="1662.6" y2="692.0" stroke="#0a72bd" stroke-width="1.6" stroke-opacity="0.45"/>
<line x1="1661.8" y1="690.0" x2="1661.8" y2="836.0" stroke="#0a72bd" stroke-width="3.4" stroke-opacity="0.55"/>
<line x1="1661.0" y1="834.4" x2="1661.0" y2="1193.6" stroke="#0a72bd" stroke-width="5.0" stroke-opacity="0.55"/>
<line x1="1661.6" y1="1000.0" x2="1661.6" y2="1193.6" stroke="#0a72bd" stroke-width="1.6" stroke-opacity="0.35"/>
<line x1="1656.0" y1="975.0" x2="1656.0" y2="1050.0" stroke="#0a72bd" stroke-width="1.2" stroke-opacity="0.50"/>
</g>
<text class="tk" x="1015.7" y="1222.6" text-anchor="middle">0</text>
<text class="tk" x="1186.5" y="1222.6" text-anchor="middle">0.5</text>
<text class="tk" x="1357.2" y="1222.6" text-anchor="middle">1</text>
<text class="tk" x="1528.0" y="1222.6" text-anchor="middle">1.5</text>
<text class="tk" x="1698.7" y="1222.6" text-anchor="middle">2</text>
<text class="tk" x="1006.7" y="1201.8" text-anchor="end">0</text>
<text class="tk" x="1006.7" y="1114.0" text-anchor="end">0.5</text>
<text class="tk" x="1006.7" y="1026.2" text-anchor="end">1</text>
<text class="tk" x="1006.7" y="938.3" text-anchor="end">1.5</text>
<text class="tk" x="1006.7" y="850.5" text-anchor="end">2</text>
<text class="tk" x="1006.7" y="762.7" text-anchor="end">2.5</text>
<text class="tk" x="1006.7" y="674.9" text-anchor="end">3</text>
<text class="xs" x="1015.8" y="664.7">×</text>
<text class="ex" x="1032.7" y="662.7">10<tspan class="sup" dy="-10.8" dx="-0.7">5</tspan></text>
<text class="xs" x="1649.2" y="1262.2">×</text>
<text class="ex" x="1665.8" y="1259.4">10<tspan class="sup" dy="-10.8" dx="-0.9">5</tspan></text>
<text class="lb lx" x="1357.2" y="1269.3" text-anchor="middle" style="font-size:37.7px">Ordering of points</text>
<text class="lb" transform="translate(962.6 930.3) rotate(-90)" text-anchor="middle">Reachability distance</text>
<text class="pl" x="878.0" y="676.0">d</text>
</g>
</svg></body></html>
